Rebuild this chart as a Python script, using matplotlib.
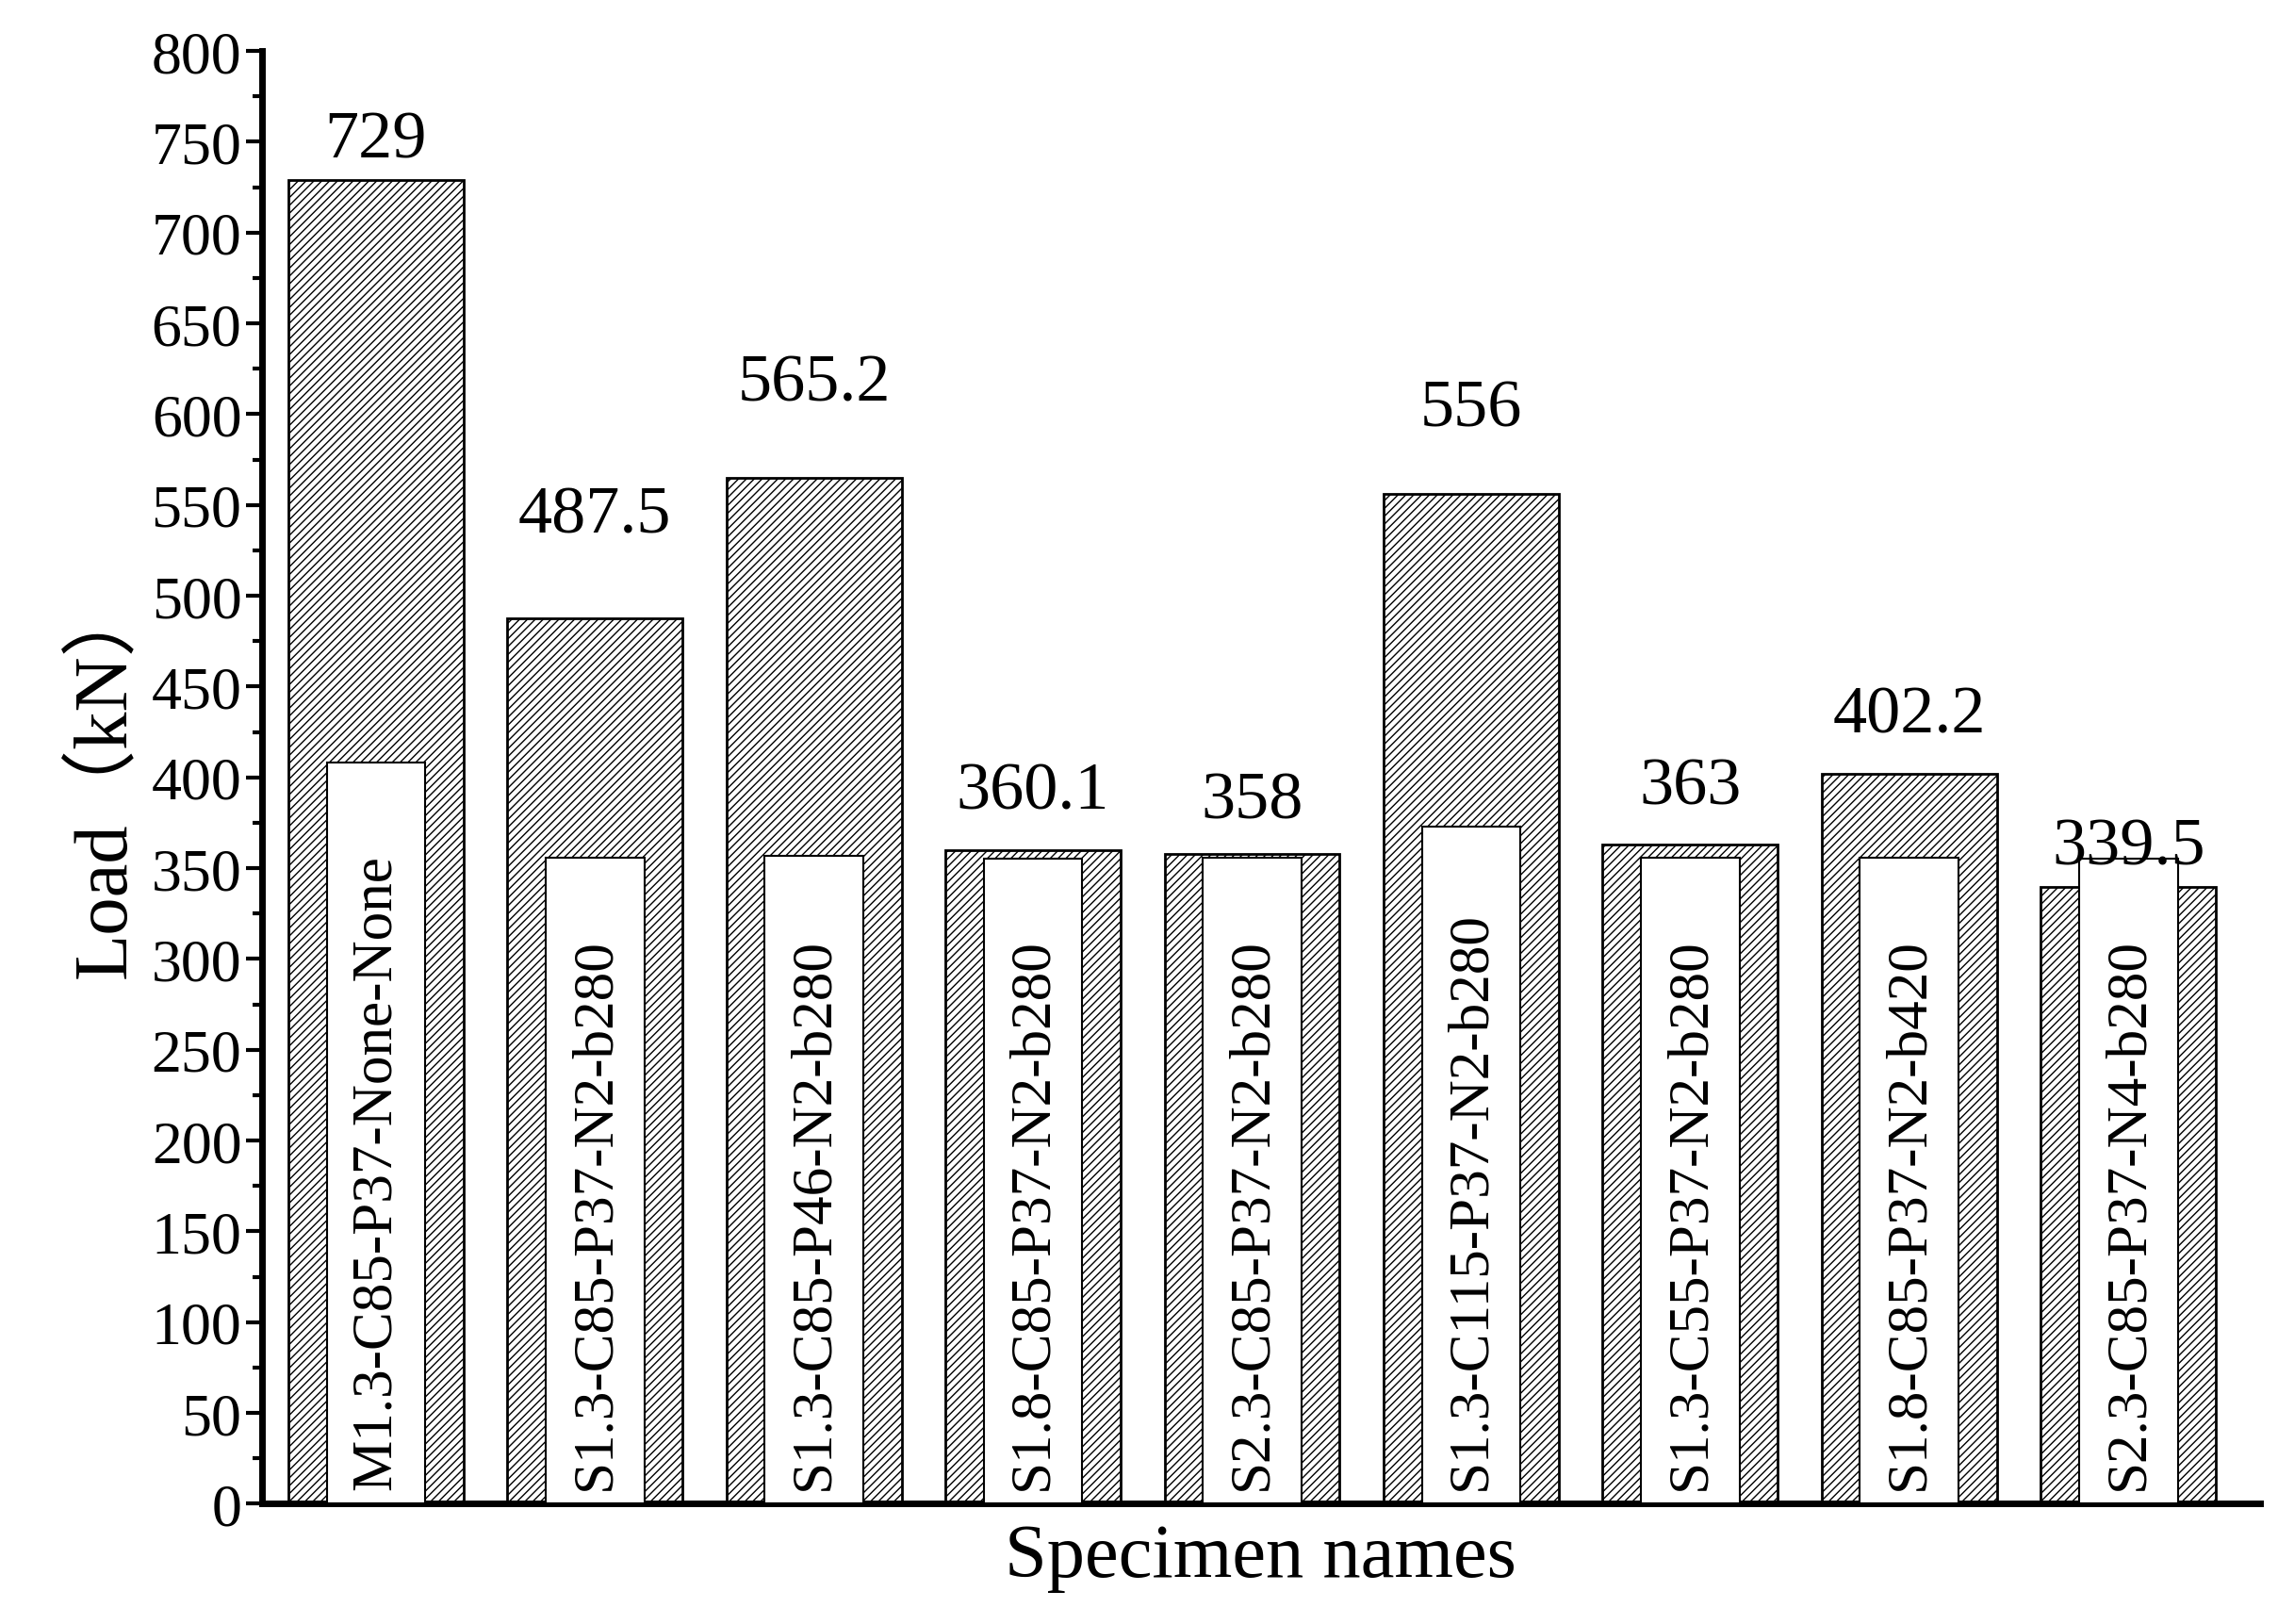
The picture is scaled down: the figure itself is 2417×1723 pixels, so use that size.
import numpy as np
import matplotlib.pyplot as plt

names = ["M1.3-C85-P37-None-None", "S1.3-C85-P37-N2-b280", "S1.3-C85-P46-N2-b280",
         "S1.8-C85-P37-N2-b280", "S2.3-C85-P37-N2-b280", "S1.3-C115-P37-N2-b280",
         "S1.3-C55-P37-N2-b280", "S1.8-C85-P37-N2-b420", "S2.3-C85-P37-N4-b280"]
loads = [729, 487.5, 565.2, 360.1, 358, 556, 363, 402.2, 339.5]
value_text = ["729", "487.5", "565.2", "360.1", "358", "556", "363", "402.2", "339.5"]
box_heights = [408, 356, 357, 355, 356, 373, 356, 356, 355]
label_offsets = [5, 40, 35, 15, 12, 30, 15, 15, 5]

plt.rcParams['font.family'] = ['Liberation Serif', 'Noto Sans CJK SC']
plt.rcParams['hatch.linewidth'] = 1.0

fig = plt.figure(figsize=(24.17, 17.24), dpi=100)
ax = fig.add_axes([0.115, 0.074, 0.877, 0.894])

x = np.arange(len(names))
ax.bar(x, loads, width=0.8, color='white', edgecolor='black', hatch='////', linewidth=2)
ax.bar(x, box_heights, width=0.45, color='white', edgecolor='black', linewidth=1.5, zorder=3)

for i in x:
    ax.text(i, 8, names[i], rotation=90, ha='center', va='bottom', fontsize=44, zorder=4)
    ax.text(i, loads[i] + label_offsets[i], value_text[i], ha='center', va='bottom', fontsize=52)

ax.set_xlim(-0.52, len(names) - 0.4)
ax.set_ylim(0, 800)
ax.set_yticks(np.arange(0, 801, 50))
ax.set_yticks(np.arange(0, 801, 25), minor=True)
ax.set_xticks([])
ax.tick_params(axis='y', labelsize=46, width=3, length=12, direction='out')
ax.tick_params(axis='y', which='minor', width=3, length=7)
for s in ['top', 'right']:
    ax.spines[s].set_visible(False)
ax.spines['left'].set_linewidth(5)
ax.spines['bottom'].set_linewidth(5)

ax.set_ylabel("Load（kN）", fontsize=58, labelpad=8)
ax.set_xlabel("Specimen names", fontsize=58, labelpad=15)

fig.savefig("out.png", dpi=100)
